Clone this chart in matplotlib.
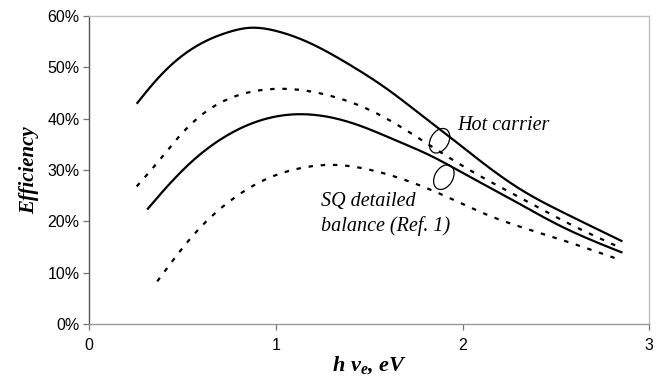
import matplotlib
matplotlib.use('Agg')
import numpy as np
from matplotlib import pyplot as plt
from matplotlib.patches import Ellipse
from matplotlib.transforms import Affine2D, ScaledTranslation

# photon energy h*nu_e (eV) and efficiency (%)
hot_x = [0.254, 0.344, 0.443, 0.582, 0.741, 0.860, 1.0, 1.178, 1.377, 1.595,
         1.794, 1.933, 2.13, 2.33, 2.53, 2.857]
hot_y = [42.9, 46.9, 50.6, 54.3, 56.8, 57.7, 57.1, 54.8, 50.9, 45.8,
         40.3, 36.4, 30.8, 25.8, 21.9, 16.1]

hot_dash_x = [0.254, 0.364, 0.483, 0.642, 0.840, 1.059, 1.297, 1.536, 1.735,
              1.933, 2.13, 2.33, 2.53, 2.85]
hot_dash_y = [26.8, 31.4, 36.6, 41.8, 45.0, 45.8, 44.4, 41.1, 36.9,
              32.3, 28.1, 24.2, 20.3, 14.8]

sq_x = [0.31, 0.403, 0.542, 0.701, 0.880, 1.079, 1.238, 1.437, 1.635, 1.834,
        2.033, 2.231, 2.53, 2.857]
sq_y = [22.3, 26.2, 31.4, 35.9, 39.2, 40.8, 40.6, 38.8, 35.9, 32.7,
        28.8, 24.9, 19.0, 13.9]

sq_dash_x = [0.364, 0.463, 0.582, 0.741, 0.940, 1.138, 1.297, 1.496, 1.735,
             1.933, 2.13, 2.33, 2.53, 2.82]
sq_dash_y = [8.3, 13.1, 18.3, 23.6, 28.1, 30.4, 31.0, 30.1, 27.5,
             24.5, 21.3, 18.7, 16.4, 12.8]

y_ticks = [0, 10, 20, 30, 40, 50, 60]
x_ticks = [0, 1, 2, 3]


def smooth(xs, ys, n=300):
    """Natural cubic spline through the read points."""
    x = np.asarray(xs, float)
    y = np.asarray(ys, float)
    k = len(x)
    h = np.diff(x)
    A = np.zeros((k, k))
    r = np.zeros(k)
    A[0, 0] = A[-1, -1] = 1
    for i in range(1, k - 1):
        A[i, i - 1] = h[i - 1]
        A[i, i] = 2 * (h[i - 1] + h[i])
        A[i, i + 1] = h[i]
        r[i] = 6 * ((y[i + 1] - y[i]) / h[i] - (y[i] - y[i - 1]) / h[i - 1])
    m = np.linalg.solve(A, r)
    xx = np.linspace(x[0], x[-1], n)
    idx = np.clip(np.searchsorted(x, xx) - 1, 0, k - 2)
    t = xx - x[idx]
    hi = h[idx]
    a = (m[idx + 1] - m[idx]) / (6 * hi)
    b = m[idx] / 2
    c = (y[idx + 1] - y[idx]) / hi - hi * (2 * m[idx] + m[idx + 1]) / 6
    return xx, y[idx] + c * t + b * t ** 2 + a * t ** 3


plt.rcParams['mathtext.fontset'] = 'custom'
plt.rcParams['mathtext.it'] = 'Liberation Serif:bold:italic'
plt.rcParams['mathtext.rm'] = 'Liberation Serif:bold:italic'

fig = plt.figure(figsize=(6.59, 3.81), dpi=100)
ax = fig.add_axes([0.1355, 0.1496, 0.8495, 0.8084])

ax.plot(*smooth(hot_x, hot_y), color='black', lw=1.6, solid_capstyle='butt')
ax.plot(*smooth(sq_x, sq_y), color='black', lw=1.6, solid_capstyle='butt')
ax.plot(*smooth(hot_dash_x, hot_dash_y), color='black', lw=1.6, dashes=(2, 3.5))
ax.plot(*smooth(sq_dash_x, sq_dash_y), color='black', lw=1.6, dashes=(2, 3.5))

for (ex, ey) in [(1.877, 35.7), (1.9, 28.6)]:
    tr = Affine2D().scale(fig.dpi / 72) + ScaledTranslation(ex, ey, ax.transData)
    ax.add_patch(Ellipse((0, 0), 19, 13, angle=60, fill=False, ec='black',
                         lw=0.9, transform=tr))

serif = 'Liberation Serif'
ax.text(1.97, 38.6, 'Hot carrier', fontsize=14.5, family=serif, style='italic', va='center')
ax.text(1.24, 23.9, 'SQ detailed', fontsize=14.5, family=serif, style='italic', va='center')
ax.text(1.24, 19.0, 'balance (Ref. 1)', fontsize=14.5, family=serif, style='italic', va='center')

ax.set_xlim(0, 3)
ax.set_ylim(0, 60)
ax.set_xticks(x_ticks)
ax.set_yticks(y_ticks)
ax.set_yticklabels([f'{v}%' for v in y_ticks])
ax.tick_params(labelsize=11.5, length=4, width=0.9, color='#777777', pad=3)
ax.tick_params(axis='x', pad=6)
for lab in ax.get_xticklabels() + ax.get_yticklabels():
    lab.set_family('Liberation Sans')

ax.spines['left'].set_color('#555555')
ax.spines['bottom'].set_color('#999999')
ax.spines['top'].set_color('#c0c0c0')
ax.spines['right'].set_color('#c0c0c0')
for s in ax.spines.values():
    s.set_linewidth(1.0)

ax.set_ylabel('Efficiency', family=serif, weight='bold', style='italic', fontsize=15, labelpad=6)
ax.set_xlabel(r'$h\ \nu_e$, eV', family=serif, weight='bold', style='italic', fontsize=16, labelpad=1)

plt.savefig('out.png', dpi=100)
plt.close(fig)
